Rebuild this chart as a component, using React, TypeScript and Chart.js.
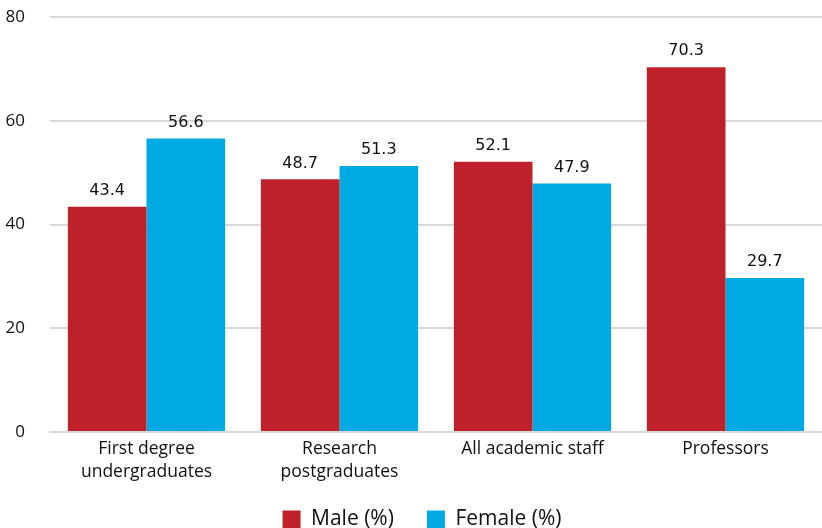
import React, { useEffect, useRef } from "react";
import { Chart, registerables } from "chart.js";

Chart.register(...registerables);

const categories: string[][] = [
  ["First degree", "undergraduates"],
  ["Research", "postgraduates"],
  ["All academic staff"],
  ["Professors"],
];
const maleValues = [43.4, 48.7, 52.1, 70.3];
const femaleValues = [56.6, 51.3, 47.9, 29.7];
const yTicks = [0, 20, 40, 60, 80];

const FONT = "'Open Sans', 'Noto Sans', sans-serif";

const valueLabels = {
  id: "valueLabels",
  afterDatasetsDraw(chart: any) {
    const ctx = chart.ctx;
    ctx.save();
    ctx.font = "16px 'DejaVu Sans', sans-serif";
    ctx.fillStyle = "#111";
    ctx.textAlign = "center";
    ctx.textBaseline = "bottom";
    chart.data.datasets.forEach((ds: any, i: number) => {
      const meta = chart.getDatasetMeta(i);
      meta.data.forEach((bar: any, j: number) => {
        ctx.fillText(String(ds.data[j].toFixed(1)), bar.x, bar.y - 8);
      });
    });
    ctx.restore();
  },
};

const legendShift = {
  id: "legendShift",
  afterLayout(chart: any) {
    const lg = chart.legend;
    if (!lg) return;
    lg.top -= 8;
    lg.left += 11;
    lg.right += 11;
  },
};

export default function App() {
  const ref = useRef<HTMLCanvasElement>(null);
  useEffect(() => {
    document.body.style.margin = "0";
    const chart = new Chart(ref.current!, {
      type: "bar",
      data: {
        labels: categories,
        datasets: [
          {
            label: "Male (%)",
            data: maleValues,
            backgroundColor: "#BE2129",
            categoryPercentage: 0.815,
            barPercentage: 1,
          },
          {
            label: "Female (%)",
            data: femaleValues,
            backgroundColor: "#00AAE2",
            categoryPercentage: 0.815,
            barPercentage: 1,
          },
        ],
      },
      options: {
        animation: false,
        responsive: false,
        layout: { padding: { top: 17, right: 0, left: 0, bottom: 0 } },
        plugins: {
          legend: {
            position: "bottom",
            labels: {
              boxWidth: 18,
              boxHeight: 18,
              padding: 33,
              color: "#111",
              font: { family: FONT, size: 21 },
            },
          },
          tooltip: { enabled: false },
        },
        scales: {
          x: {
            grid: { display: false, drawTicks: false },
            border: { display: true, color: "#d9d9d9", width: 2 },
            ticks: {
              color: "#111",
              font: { family: FONT, size: 17.5, lineHeight: 1.35 },
              padding: 5,
              maxRotation: 0,
              autoSkip: false,
            },
            afterFit: (s: any) => {
              s.height = 52;
            },
          },
          y: {
            min: 0,
            max: 80,
            afterBuildTicks: (axis: any) => {
              axis.ticks = yTicks.map((v) => ({ value: v }));
            },
            grid: { color: "#d9d9d9", lineWidth: 2, drawTicks: false },
            border: { display: false },
            ticks: {
              color: "#111",
              font: { family: FONT, size: 17 },
              padding: 25,
            },
            afterFit: (s: any) => {
              s.width = 50;
              s.paddingTop = 0;
              s.paddingBottom = 0;
            },
          },
        },
      },
      plugins: [valueLabels, legendShift],
    });
    const legend: any = (chart as any).legend;
    if (legend) {
      const origFit = legend.fit.bind(legend);
      legend.fit = function () {
        origFit();
        this.height = 44;
      };
      chart.update();
    }
    return () => chart.destroy();
  }, []);
  return <canvas ref={ref} width={822} height={528} style={{ display: "block" }} />;
}
